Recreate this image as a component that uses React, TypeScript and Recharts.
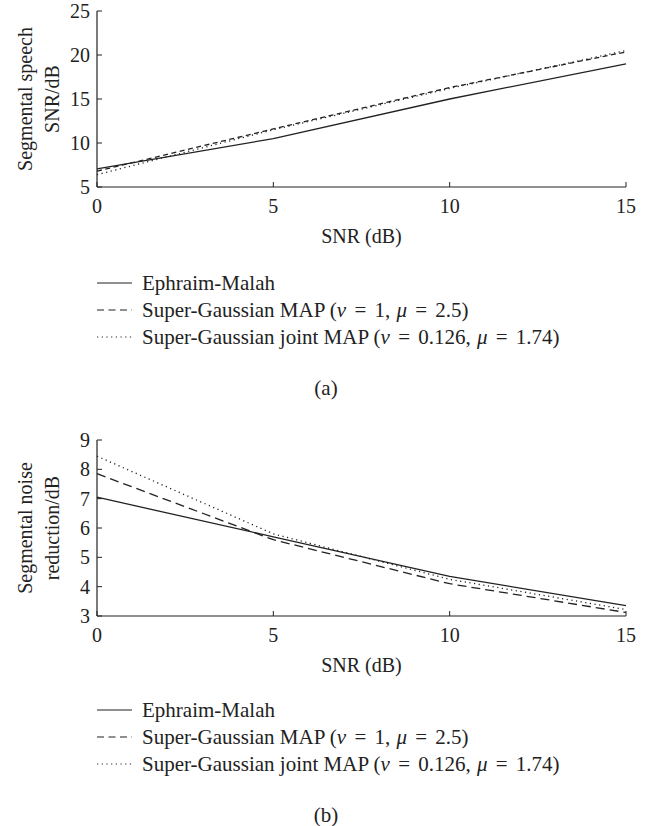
import React from 'react';
import { LineChart, Line, XAxis, YAxis } from 'recharts';

// ---- data ----
const snrValues = [0, 5, 10, 15];
const xTicks = [0, 5, 10, 15];

const speechEM = [7.05, 10.5, 15.0, 19.0];
const speechMAP = [6.8, 11.6, 16.3, 20.35];
const speechJoint = [6.4, 11.5, 16.2, 20.5];
const speechTicks = [5, 10, 15, 20, 25];

const noiseEM = [7.05, 5.7, 4.35, 3.35];
const noiseMAP = [7.85, 5.6, 4.1, 3.12];
const noiseJoint = [8.45, 5.8, 4.25, 3.22];
const noiseTicks = [3, 4, 5, 6, 7, 8, 9];

const seriesNames = ['Ephraim-Malah', 'Super-Gaussian MAP', 'Super-Gaussian joint MAP'];
const mapParams = ['1', '2.5'];
const jointParams = ['0.126', '1.74'];

const FONT = '"Liberation Serif", "Times New Roman", serif';
const FS = 20;
const LFS = 21;
const INK = '#222';

type ChartProps = {
  em: number[];
  map: number[];
  joint: number[];
  yTicks: number[];
  yLabel: [string, string];
  top: number;
  marginTop: number;
  xAxisHeight: number;
  mapDash: string;
};

const W = 655;
const PLOT_LEFT = 97;
const PLOT_RIGHT = 626;

function Panel(p: ChartProps) {
  const data = snrValues.map((x, i) => ({ x, em: p.em[i], map: p.map[i], joint: p.joint[i] }));
  const dom: [number, number] = [p.yTicks[0], p.yTicks[p.yTicks.length - 1]];
  const yAxisW = 60;
  const H = p.marginTop + 176 + p.xAxisHeight;
  const tickStyle = { fill: INK, fontSize: FS, fontFamily: FONT };
  return (
    <div style={{ position: 'absolute', left: 0, top: p.top }}>
      <LineChart
        width={W}
        height={H}
        data={data}
        margin={{ top: p.marginTop, right: W - PLOT_RIGHT, bottom: 0, left: PLOT_LEFT - yAxisW }}
      >
        <XAxis
          dataKey="x"
          type="number"
          domain={[0, 15]}
          ticks={xTicks}
          height={p.xAxisHeight}
          tickSize={-5}
          tickMargin={17}
          stroke={INK}
          tick={tickStyle}
          axisLine={{ stroke: INK, strokeWidth: 1.2 }}
          label={{
            content: (props: any) => {
              const vb = props.viewBox;
              return (
                <text x={vb.x + vb.width / 2} y={vb.y + 56} textAnchor="middle" fill={INK} fontSize={FS} fontFamily={FONT}>
                  SNR (dB)
                </text>
              );
            },
          }}
        />
        <XAxis
          xAxisId="top"
          orientation="top"
          dataKey="x"
          type="number"
          domain={[0, 15]}
          ticks={xTicks}
          height={0}
          tickSize={-5}
          tick={false}
          stroke={INK}
          axisLine={{ stroke: INK, strokeWidth: 1.2 }}
        />
        <YAxis
          type="number"
          domain={dom}
          ticks={p.yTicks}
          width={yAxisW}
          tickSize={-5}
          tickMargin={12}
          stroke={INK}
          tick={tickStyle}
          interval={0}
          axisLine={{ stroke: INK, strokeWidth: 1.2 }}
          label={{
            content: (props: any) => {
              const vb = props.viewBox;
              const cy = vb.y + vb.height / 2;
              return (
                <g>
                  <text x={25} y={cy} transform={`rotate(-90 25 ${cy})`} textAnchor="middle" dominantBaseline="central" fill={INK} fontSize={FS} fontFamily={FONT}>
                    {p.yLabel[0]}
                  </text>
                  <text x={52} y={cy} transform={`rotate(-90 52 ${cy})`} textAnchor="middle" dominantBaseline="central" fill={INK} fontSize={FS} fontFamily={FONT}>
                    {p.yLabel[1]}
                  </text>
                </g>
              );
            },
          }}
        />
        <YAxis
          yAxisId="right"
          orientation="right"
          type="number"
          domain={dom}
          ticks={p.yTicks}
          width={0}
          tickSize={-5}
          tick={false}
          stroke={INK}
          allowDataOverflow
          axisLine={{ stroke: INK, strokeWidth: 1.2 }}
        />
        <Line dataKey="em" stroke={INK} strokeWidth={1.3} dot={false} isAnimationActive={false} />
        <Line dataKey="map" stroke={INK} strokeWidth={1.3} strokeDasharray={p.mapDash} dot={false} isAnimationActive={false} />
        <Line dataKey="joint" stroke={INK} strokeWidth={1.3} strokeDasharray="1.2 3.5" dot={false} isAnimationActive={false} />
      </LineChart>
    </div>
  );
}

function Params({ nu, mu }: { nu: string; mu: string }) {
  const gap = 3;
  return (
    <>
      {' ('}
      <tspan fontStyle="italic">ν</tspan>
      <tspan dx={gap}> = </tspan>
      <tspan dx={gap}>{nu},</tspan>
      <tspan dx={1}> </tspan>
      <tspan fontStyle="italic">μ</tspan>
      <tspan dx={gap}> = </tspan>
      <tspan dx={gap}>{mu})</tspan>
    </>
  );
}

function Legend({ top, caption }: { top: number; caption: string }) {
  const rowGap = 27;
  const dashes = [undefined, '7 4.5', '1.2 3.5'];
  const labels = [
    <tspan key="a">{seriesNames[0]}</tspan>,
    <tspan key="b">
      {seriesNames[1]}
      <Params nu={mapParams[0]} mu={mapParams[1]} />
    </tspan>,
    <tspan key="c">
      {seriesNames[2]}
      <Params nu={jointParams[0]} mu={jointParams[1]} />
    </tspan>,
  ];
  return (
    <svg width={W} height={140} style={{ position: 'absolute', left: 0, top }}>
      {labels.map((lab, i) => (
        <g key={i}>
          <line x1={97} x2={132} y1={12 + i * rowGap} y2={12 + i * rowGap} stroke={INK} strokeWidth={1.2} strokeDasharray={dashes[i]} />
          <text x={142} y={12 + i * rowGap} dominantBaseline="central" fill={INK} fontSize={LFS} fontFamily={FONT}>
            {lab}
          </text>
        </g>
      ))}
      <text x={326} y={117} textAnchor="middle" dominantBaseline="central" fill={INK} fontSize={LFS} fontFamily={FONT}>
        {caption}
      </text>
    </svg>
  );
}

export default function App() {
  return (
    <div style={{ position: 'absolute', left: 0, top: 0, width: W, height: 826, background: '#fff', overflow: 'hidden' }}>
      <Panel
        em={speechEM}
        map={speechMAP}
        joint={speechJoint}
        yTicks={speechTicks}
        yLabel={['Segmental speech', 'SNR/dB']}
        top={0}
        marginTop={11}
        xAxisHeight={66}
        mapDash="5 3.5"
      />
      <Legend top={271} caption="(a)" />
      <Panel
        em={noiseEM}
        map={noiseMAP}
        joint={noiseJoint}
        yTicks={noiseTicks}
        yLabel={['Segmental noise', 'reduction/dB']}
        top={420}
        marginTop={20}
        xAxisHeight={66}
        mapDash="9 5"
      />
      <Legend top={698} caption="(b)" />
    </div>
  );
}
